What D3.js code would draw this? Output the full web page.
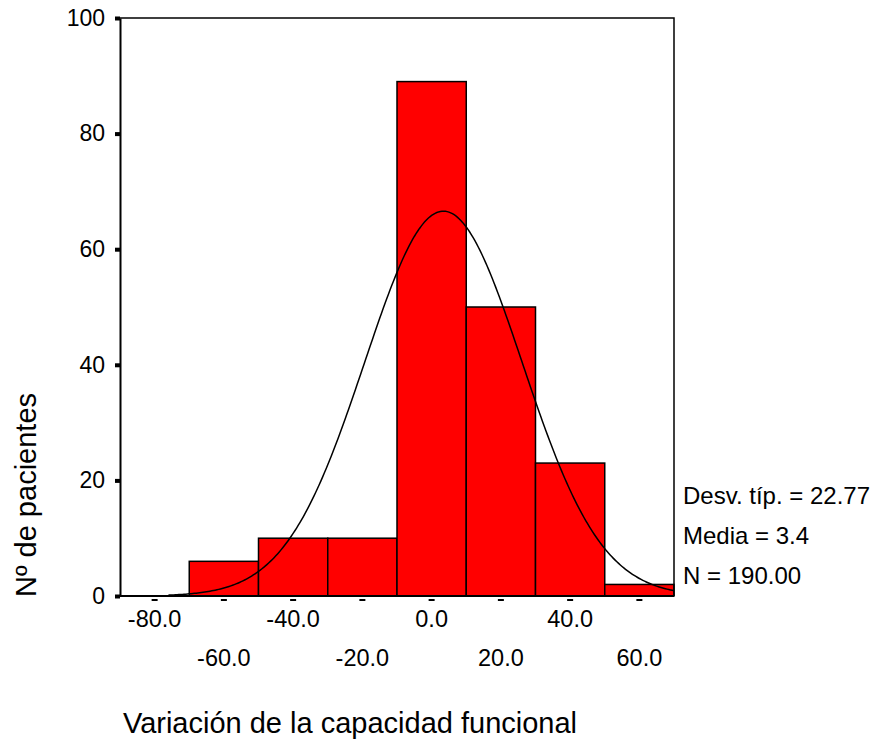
<!DOCTYPE html>
<html>
<head>
<meta charset="utf-8">
<script src="https://cdn.jsdelivr.net/npm/d3@7"></script>
<style>
  html, body { margin: 0; padding: 0; background: #fff; }
  svg { display: block; font-family: "Liberation Sans", Arial, sans-serif; }
</style>
</head>
<body>
<svg id="chart" width="873" height="749"></svg>
<script>
// Histogram bins (centre of each 20-unit bin) and patient counts
const binCenters = [-80, -60, -40, -20, 0, 20, 40, 60];
const counts = [0, 6, 10, 10, 89, 50, 23, 2];
const binWidth = 20;

// Axis tick values / labels
const yTicks = [0, 20, 40, 60, 80, 100];
const xTicksRow1 = [-80, -40, 0, 40];
const xTicksRow2 = [-60, -20, 20, 60];

// Summary statistics
const stdDev = 22.77;
const mean = 3.4;
const nTotal = 190;
const statLines = ["Desv. típ. = 22.77", "Media = 3.4", "N = 190.00"];

const svg = d3.select("#chart");
const plotL = 120, plotR = 674, plotT = 18, plotB = 596;

const x = d3.scaleLinear().domain([-90, 70]).range([plotL, plotR]);
const y = d3.scaleLinear().domain([0, 100]).range([plotB, plotT]);

// Bars
svg.append("g").selectAll("rect")
  .data(binCenters.map((c, i) => ({ c, n: counts[i] })).filter(d => d.n > 0))
  .join("rect")
  .attr("x", d => x(d.c - binWidth / 2))
  .attr("y", d => y(d.n))
  .attr("width", d => x(d.c + binWidth / 2) - x(d.c - binWidth / 2))
  .attr("height", d => y(0) - y(d.n))
  .attr("fill", "#ff0000")
  .attr("stroke", "#000")
  .attr("stroke-width", 1.5);

// Fitted normal curve scaled to counts
const pdf = v => nTotal * binWidth / (stdDev * Math.sqrt(2 * Math.PI)) *
  Math.exp(-0.5 * Math.pow((v - mean) / stdDev, 2));
const curvePts = d3.range(-76, 70.01, 0.5).map(v => [v, pdf(v)]);
svg.append("path")
  .datum(curvePts)
  .attr("fill", "none")
  .attr("stroke", "#000")
  .attr("stroke-width", 1.5)
  .attr("d", d3.line().x(d => x(d[0])).y(d => y(d[1])));

// Frame: top and right borders
svg.append("path")
  .attr("d", `M${plotL},${plotT}H${plotR}V${plotB}`)
  .attr("fill", "none").attr("stroke", "#000").attr("stroke-width", 1.5);

// Y axis
const yAxis = d3.axisLeft(y).tickValues(yTicks).tickFormat(d3.format("d")).tickSize(0).tickPadding(15);
const gy = svg.append("g").attr("transform", `translate(${plotL},0)`).call(yAxis);
gy.select(".domain").attr("stroke-width", 2);
gy.selectAll("text").attr("font-size", 23).attr("font-family", "Liberation Sans, Arial, sans-serif").attr("fill", "#000");
gy.selectAll(".tick").append("rect")
  .attr("x", -5).attr("y", -2).attr("width", 5).attr("height", 4).attr("fill", "#000");

// X axis baseline
svg.append("line")
  .attr("x1", plotL).attr("x2", plotR).attr("y1", plotB).attr("y2", plotB)
  .attr("stroke", "#000").attr("stroke-width", 2);

// X tick dashes at bin centres
svg.append("g").selectAll("rect")
  .data(binCenters)
  .join("rect")
  .attr("x", d => x(d) - 3).attr("y", plotB + 3)
  .attr("width", 6).attr("height", 2).attr("fill", "#000");

// X tick labels, staggered in two rows (plain hyphen for negatives)
const fmt = v => d3.format(".1f")(v).replace("\u2212", "-");
svg.append("g").selectAll("text")
  .data(xTicksRow1)
  .join("text")
  .attr("x", d => x(d)).attr("y", 627)
  .attr("text-anchor", "middle").attr("font-size", 23.5)
  .text(d => fmt(d));
svg.append("g").selectAll("text")
  .data(xTicksRow2)
  .join("text")
  .attr("x", d => x(d)).attr("y", 666)
  .attr("text-anchor", "middle").attr("font-size", 23.5)
  .text(d => fmt(d));

// Statistics block
svg.append("g").selectAll("text")
  .data(statLines)
  .join("text")
  .attr("x", 683).attr("y", (d, i) => 504 + i * 40)
  .attr("font-size", 24)
  .text(d => d);

// Axis titles
svg.append("text")
  .attr("x", 350).attr("y", 733)
  .attr("text-anchor", "middle").attr("font-size", 29)
  .text("Variación de la capacidad funcional");
svg.append("text")
  .attr("transform", "translate(36,495) rotate(-90)")
  .attr("text-anchor", "middle").attr("font-size", 29)
  .text("Nº de pacientes");
</script>
</body>
</html>
